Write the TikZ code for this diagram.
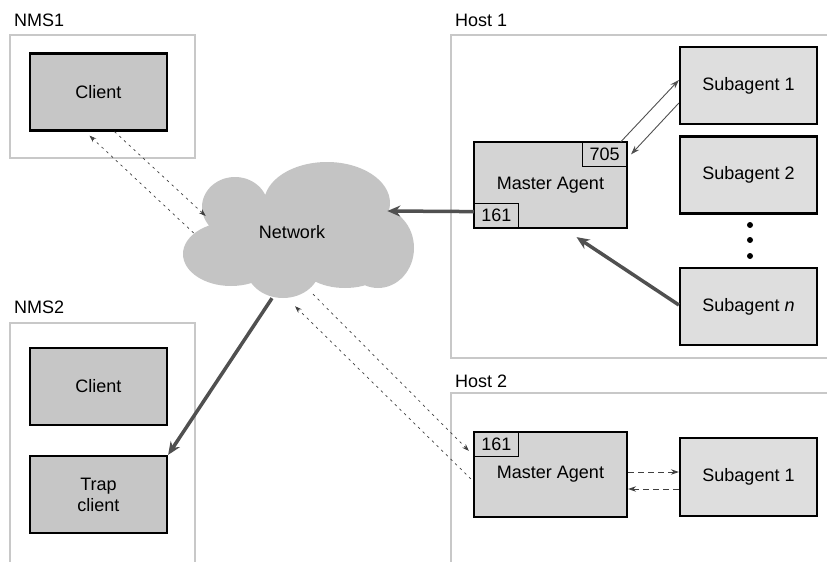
\documentclass[tikz,border=0pt]{standalone}
\usepackage{fontspec}
\setmainfont{Liberation Sans}
\usetikzlibrary{shapes.symbols,arrows.meta}

\definecolor{framegray}{RGB}{200,200,200}
\definecolor{clientgray}{RGB}{198,198,198}
\definecolor{mastergray}{RGB}{212,212,212}
\definecolor{subgray}{RGB}{222,222,222}
\definecolor{netgray}{RGB}{196,196,196}
\definecolor{linkgray}{RGB}{80,80,80}

\begin{document}
\begin{tikzpicture}[x=1pt,y=-1pt,
  font=\fontsize{18}{21}\selectfont,
  frame/.style={draw=framegray,line width=2.4pt},
  title/.style={anchor=base west,inner sep=0pt},
  box/.style={draw=black,line width=2.2pt,minimum width=137pt,minimum height=77pt,
    align=center,inner sep=0pt},
  client/.style={box,fill=clientgray},
  master/.style={box,fill=mastergray,minimum width=153pt,minimum height=86pt},
  subagent/.style={box,fill=subgray},
  port/.style={draw=black,line width=0.8pt,minimum width=44pt,minimum height=24pt,inner sep=0pt},
  trunk/.style={draw=linkgray,line width=3.5pt,-{Stealth[length=13pt,width=11pt]}},
  thinlink/.style={draw=linkgray,line width=0.9pt,-{Stealth[length=9pt,width=6pt]}},
  dotlink/.style={draw=black!75,line width=0.7pt,dash pattern=on 2.5pt off 4pt,
    -{Stealth[length=7pt,width=5pt]}},
  dashlink/.style={draw=black!75,line width=0.9pt,dash pattern=on 6pt off 4pt,
    -{Stealth[length=8pt,width=5.5pt]}}]

% page size:
\pgfmathsetmacro\pwidth{827};
\pgfmathsetmacro\pheight{562};

\useasboundingbox (0,0) rectangle (\pwidth,\pheight);
\clip (0,0) rectangle (\pwidth,\pheight);

% frames of the machines:
\draw[frame] (10,35) rectangle (195,158);
\draw[frame] (10,323) rectangle (195,600);
\draw[frame] (451,35) rectangle (860,358);
\draw[frame] (451,393) rectangle (860,600);
\node[title] (nmsa) at (14,27) {NMS1};
\node[title] (nmsb) at (14,313) {NMS2};
\node[title] (hosta) at (455,27) {Host 1};
\node[title] (hostb) at (455,387) {Host 2};

% the network, puffs filled one over the other:
\fill[netgray] (235,207) ellipse (33 and 30)
  (327,203) ellipse (63 and 41)
  (378,248) ellipse (36 and 40)
  (283,267) ellipse (37 and 31)
  (231,254) ellipse (48 and 32)
  (345,262) ellipse (45 and 26)
  (300,240) ellipse (75 and 42);
\node[cloud,cloud puffs=10,aspect=1.7,minimum width=228pt,minimum height=134pt,
  inner sep=0pt] (net) at (298,230) {};
\node (nettext) at (292,232) {Network};

% NMS boxes:
\node[client] (clienta) at (98.5,92) {Client};
\node[client] (clientb) at (98.5,386.5) {Client};
\node[client] (trap) at (98.5,494.5) {Trap\\client};

% host 1:
\node[master] (mastera) at (550.5,185) {Master Agent};
\node[port,anchor=north east] (porta) at ([shift={(-1.1,1.1)}]mastera.north east) {705};
\node[port,anchor=south west] (portb) at ([shift={(1.1,-1.1)}]mastera.south west) {161};
\node[subagent] (suba) at (748.5,85.5) {Subagent 1};
\node[subagent] (subb) at (748.5,175) {Subagent 2};
\node[subagent] (subn) at (748.5,306.5) {Subagent \textit{n}};
\foreach \y in {225,240,256}{
  \fill (750,\y) circle (3pt);
}

% host 2:
\node[master,minimum height=85pt] (masterb) at (550.5,474.5) {Master Agent};
\node[port,anchor=north west] (portc) at ([shift={(1.1,1.1)}]masterb.north west) {161};
\node[subagent,minimum height=78pt] (subc) at (748.5,477) {Subagent 1};

% links:
\draw[trunk] ([shift={(0,-4)}]portb.west) -- ([shift={(-20,-19)}]net.east);
\draw[trunk] ([shift={(0,-1.5)}]subn.west) -- ([shift={(26,8)}]mastera.south);
\draw[trunk] ([shift={(-26,1)}]net.south) -- (trap.north east);
\draw[thinlink] ([shift={(16,0)}]porta.north) -- ([shift={(0,-5.5)}]suba.west);
\draw[thinlink] ([shift={(0,17.5)}]suba.west) -- ([shift={(4,0)}]porta.east);
\draw[dotlink] ([shift={(16,0)}]clienta.south) -- ([shift={(17,-14)}]net.west);
\draw[dotlink] ([shift={(5,3)}]net.west) -- ([shift={(-9,4)}]clienta.south);
\draw[dotlink] ([shift={(15,-3)}]net.south) -- ([shift={(-4,20)}]masterb.north west);
\draw[dotlink] ([shift={(-2,48)}]masterb.north west) -- ([shift={(-3,9)}]net.south);
\draw[dashlink] ([shift={(0,-2.5)}]masterb.east) -- ([shift={(0,-5)}]subc.west);
\draw[dashlink] ([shift={(0,12)}]subc.west) -- ([shift={(0,14.5)}]masterb.east);

\end{tikzpicture}
\end{document}
